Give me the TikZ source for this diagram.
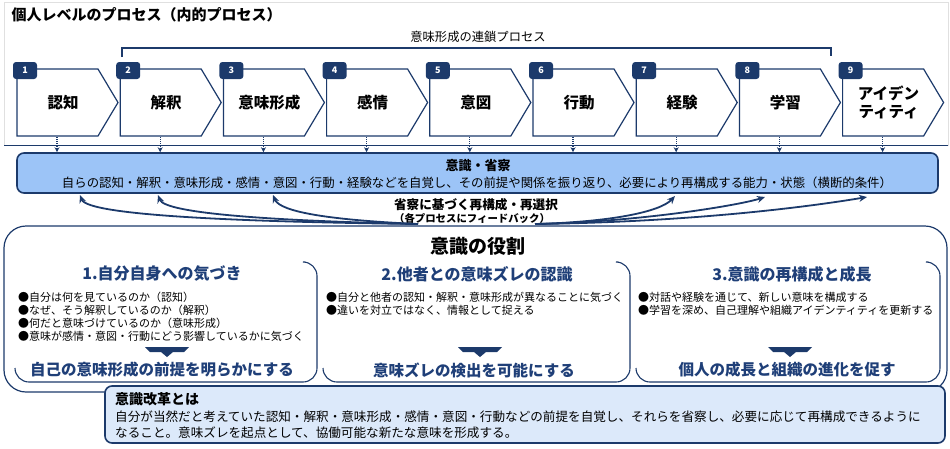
\documentclass[tikz,border=0pt]{standalone}
\usepackage{fontspec}
\setmainfont{Noto Sans CJK JP}
\usetikzlibrary{arrows.meta}
\definecolor{navy}{HTML}{1C3A6B}
\definecolor{hblue}{HTML}{1F3F78}
\definecolor{lblue}{HTML}{9CC4F7}
\definecolor{pblue}{HTML}{DCE9FA}
\begin{document}
\begin{tikzpicture}[x=1pt,y=-1pt,
  stepbox/.style={draw=navy,line width=1.2pt,fill=white,line join=miter},
  badge/.style={fill=navy,rounded corners=3pt,text=white,font=\fontsize{9}{9}\selectfont\bfseries,minimum width=24pt,minimum height=17pt,inner sep=0pt},
  slabel/.style={font=\fontsize{15.5}{18}\selectfont\bfseries,align=center},
  dotarr/.style={navy,densely dotted,line width=1.1pt,-{Stealth[length=5pt,width=5pt]}},
  fb/.style={navy,line width=1.8pt,-{Stealth[length=8pt,width=7pt]}},
  head/.style={text=hblue,font=\fontsize{16}{18}\selectfont\bfseries},
  bul/.style={anchor=west,font=\fontsize{11}{13}\selectfont,align=left,inner sep=0pt},
  concl/.style={text=hblue,font=\fontsize{15.5}{18}\selectfont\bfseries},
  role/.style={draw=navy,line width=1.1pt},
  down/.style={fill=navy}]
\useasboundingbox (0,0) rectangle (950,448);
% top frame
\draw[black!12,line width=0.8pt] (4,2) rectangle (948,145);
\draw[navy,line width=1pt] (4,145) -- (948,145);
\node[anchor=west,font=\fontsize{15}{17}\selectfont\bfseries] (title) at (8,15) {個人レベルのプロセス（内的プロセス）};
% bracket
\draw[navy,line width=1.2pt] (122,57) -- (122,48) -- (831,48) -- (831,56);
\node[font=\fontsize{12.3}{14}\selectfont] (chain) at (478,37) {意味形成の連鎖プロセス};
% steps
\foreach \i/\lab [count=\k from 0] in {1/認知,2/解釈,3/意味形成,4/感情,5/意図,6/行動,7/経験,8/学習,9/{アイデン\\ティティ}}{
  \pgfmathsetmacro{\xa}{17+103.2*\k}
  \draw[stepbox] (\xa,69) -- (\xa+81,69) -- (\xa+101,102.5) -- (\xa+81,136) -- (\xa,136) -- cycle;
  \node[slabel] (s\i) at (\xa+46,102.5) {\lab};
  \node[badge] (b\i) at (\xa+8,70.5) {\i};
  \coordinate (d\i) at (\xa+40,137);
}
% awareness box
\node[draw=navy,line width=1.6pt,fill=lblue,rounded corners=7pt,minimum width=921pt,minimum height=40pt,inner sep=0pt] (aw) at (477.5,173) {};
\node[font=\fontsize{13}{15}\selectfont\bfseries] (awt) at (478,166) {意識・省察};
\node[font=\fontsize{12.4}{14}\selectfont] (awl) at (477,183) {自らの認知・解釈・意味形成・感情・意図・行動・経験などを自覚し、その前提や関係を振り返り、必要により再構成する能力・状態（横断的条件）};
\foreach \i in {1,...,9}{ \draw[dotarr] (d\i) -- (d\i |- aw.north); }
% feedback
\node[font=\fontsize{12.6}{14}\selectfont\bfseries] (fbt) at (476,205) {省察に基づく再構成・再選択};
\node[font=\fontsize{10.4}{12}\selectfont\bfseries] (fbs) at (472,219) {（各プロセスにフィードバック）};
\coordinate (fl) at (418,224);
\coordinate (fr) at (535,224);
\coordinate (e1) at (80,195);
\coordinate (e2) at (158,195);
\coordinate (e3) at (273,195);
\coordinate (e4) at (675,196);
\coordinate (e5) at (765,197);
\coordinate (e6) at (867,197);
\draw[fb] (fl) .. controls (250,222) and (88,216) .. (e1);
\draw[fb] (fl) .. controls (280,221) and (165,214) .. (e2);
\draw[fb] (fl) .. controls (330,220) and (280,212) .. (e3);
\draw[fb] (fr) .. controls (610,222) and (660,212) .. (e4);
\draw[fb] (fr) .. controls (640,222) and (740,205) .. (e5);
\draw[fb] (fr) .. controls (700,222) and (820,205) .. (e6);
% roles
\draw[navy,line width=1.2pt,rounded corners=22pt,fill=white] (4,392) -- (4,226) -- (947,226) -- (947,392) -- cycle;
\node[font=\fontsize{19}{21}\selectfont\bfseries] (rt) at (478,246) {意識の役割};
\draw[role] (305,262) [rounded corners=14pt]-- (317,262) -- (317,382) -- (15,382) -- (15,368);
\draw[role] (618,262) [rounded corners=14pt]-- (630,262) -- (630,382) -- (323,382) -- (323,368);
\draw[role] (928,262) [rounded corners=14pt]-- (940,262) -- (940,382) -- (636,382) -- (636,368);
\node[head] (h1) at (162,274) {1.自分自身への気づき};
\node[head] (h2) at (477,274) {2.他者との意味ズレの認識};
\node[head] (h3) at (792,274) {3.意識の再構成と成長};
\node[bul] (l1) at (18,317) {●自分は何を見ているのか（認知）\\●なぜ、そう解釈しているのか（解釈）\\●何だと意味づけているのか（意味形成）\\●意味が感情・意図・行動にどう影響しているかに気づく};
\node[bul] (l2) at (326,304) {●自分と他者の認知・解釈・意味形成が異なることに気づく\\●違いを対立ではなく、情報として捉える};
\node[bul] (l3) at (638,304) {●対話や経験を通じて、新しい意味を構成する\\●学習を深め、自己理解や組織アイデンティティを更新する};
\foreach \c/\n in {167/1,480/2,790/3}{
  \fill[down] (\c-22,347) -- (\c+22,347) -- (\c+17,352) -- (\c+6,352) -- (\c,357) -- (\c-6,352) -- (\c-17,352) -- cycle;
  \coordinate (dn\n) at (\c,352);
}
\node[concl] (c1) at (162,370) {自己の意味形成の前提を明らかにする};
\node[concl] (c2) at (474,370) {意味ズレの検出を可能にする};
\node[concl] (c3) at (787,370) {個人の成長と組織の進化を促す};
% reform box
\node[draw=navy,line width=1.6pt,fill=pblue,rounded corners=7pt,minimum width=840pt,minimum height=57pt,inner sep=0pt] (rf) at (525,414.5) {};
\node[anchor=west,font=\fontsize{14}{16}\selectfont\bfseries,inner sep=0pt] (rft) at (115,399) {意識改革とは};
\node[anchor=west,font=\fontsize{12.6}{16}\selectfont,align=left,inner sep=0pt] (rfl) at (115,425) {自分が当然だと考えていた認知・解釈・意味形成・感情・意図・行動などの前提を自覚し、それらを省察し、必要に応じて再構成できるように\\なること。意味ズレを起点として、協働可能な新たな意味を形成する。};
\end{tikzpicture}
\end{document}
